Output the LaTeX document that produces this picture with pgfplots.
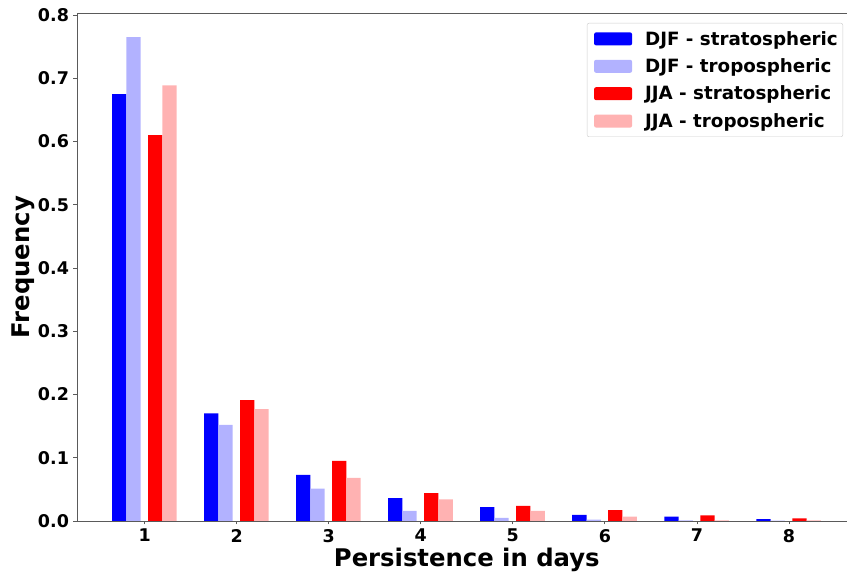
\documentclass[border=0pt]{standalone}
\usepackage{fontspec}
\setmainfont{DejaVu Sans}
\usepackage{pgfplots}
\pgfplotsset{compat=1.18}
\definecolor{lblue}{RGB}{178,178,255}
\definecolor{lred}{RGB}{255,178,178}
\definecolor{spine}{RGB}{90,90,90}
\begin{document}
\begin{tikzpicture}[x=1pt,y=1pt]
\path[use as bounding box] (-77,-54) rectangle (770,521);
\begin{axis}[
  at={(0,0)}, anchor=south west,
  scale only axis, width=779.6pt, height=507.5pt,
  xmin=0.265, xmax=8.735, ymin=0, ymax=0.8025,
  axis line style={spine, line width=0.8pt},
  tick style={spine, line width=0.8pt},
  tick align=outside, major tick length=3.5pt,
  xtick={1,2,3,4,5,6,7,8}, ytick={0,0.1,...,0.8},
  xtick pos=bottom, ytick pos=left,
  /pgf/number format/assume math mode=true,
  yticklabel style={/pgf/number format/fixed, /pgf/number format/precision=1, /pgf/number format/zerofill},
  ticklabel style={font=\fontsize{17.5}{19}\selectfont\bfseries},
  xticklabel style={yshift=-1pt},
  yticklabel style={xshift=-1pt},
  ylabel={Frequency}, xlabel={Persistence in days},
  label style={font=\fontsize{24.3}{28}\selectfont\bfseries},
  ylabel style={at={(axis description cs:0,0.5)}, anchor=center, yshift=54pt},
  xlabel style={at={(axis description cs:0.5,0)}, anchor=base, yshift=-46pt},
  legend cell align=left,
  legend style={at={(rel axis cs:0.9826,0.9813)}, anchor=north east,
    draw=black!20, rounded corners=2pt, fill=white,
    font=\fontsize{18.3}{21}\selectfont\bfseries,
    row sep=8pt, column sep=11pt, inner xsep=3pt, inner ysep=6pt},
  legend image code/.code={\path (0pt,0pt); \fill[#1] (4pt,-6.5pt) rectangle (42pt,6.5pt);},
  every axis plot/.append style={ybar, bar width=0.155, draw=none},
]
\addplot[fill=blue, bar shift=-0.277] coordinates {(1,0.675) (2,0.170) (3,0.073) (4,0.036) (5,0.022) (6,0.0095) (7,0.007) (8,0.003)};
\addlegendentry{DJF - stratospheric}
\addplot[fill=lblue, bar shift=-0.122] coordinates {(1,0.765) (2,0.152) (3,0.051) (4,0.016) (5,0.005) (6,0.002) (7,0.001) (8,0.0005)};
\addlegendentry{DJF - tropospheric}
\addplot[fill=red, bar shift=0.114] coordinates {(1,0.610) (2,0.191) (3,0.095) (4,0.044) (5,0.024) (6,0.017) (7,0.009) (8,0.004)};
\addlegendentry{JJA - stratospheric}
\addplot[fill=lred, bar shift=0.27] coordinates {(1,0.689) (2,0.177) (3,0.068) (4,0.034) (5,0.016) (6,0.007) (7,0.001) (8,0.001)};
\addlegendentry{JJA - tropospheric}
\end{axis}
\end{tikzpicture}
\end{document}
